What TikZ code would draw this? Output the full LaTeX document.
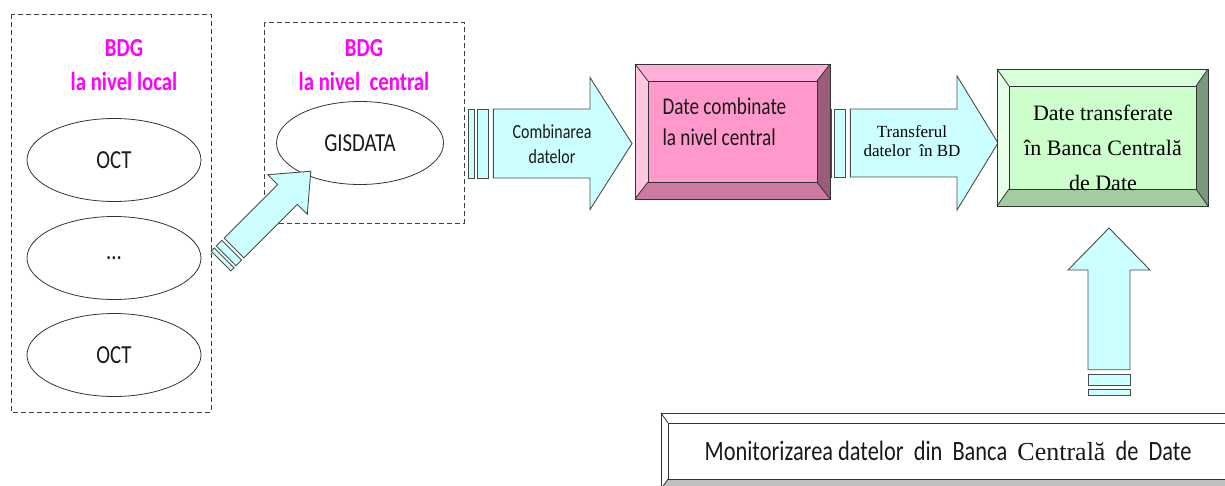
\documentclass[tikz,border=0pt]{standalone}
\usepackage{fontspec}
\setmainfont{Liberation Serif}
\newfontfamily\condfont[FakeStretch=0.8]{Carlito}
\usetikzlibrary{shapes.geometric}

\definecolor{arrowfill}{HTML}{CCFFFF}
\definecolor{titlecol}{HTML}{FF00FF}
\definecolor{pinkmid}{HTML}{FF99CC}
\definecolor{pinktop}{HTML}{FFB0D8}
\definecolor{pinkleft}{HTML}{FFC6E2}
\definecolor{pinkbot}{HTML}{CC7AA3}
\definecolor{pinkright}{HTML}{995C7A}
\definecolor{greenmid}{HTML}{CCFFCC}
\definecolor{greentop}{HTML}{D8FFD8}
\definecolor{greenleft}{HTML}{E6FFE6}
\definecolor{greenbot}{HTML}{A3CCA3}
\definecolor{greenright}{HTML}{7A997A}
\colorlet{plainmid}{white}
\colorlet{plaintop}{white}
\colorlet{plainleft}{white}
\definecolor{plainbot}{HTML}{BFBFBF}
\definecolor{plainright}{HTML}{999999}

% striped block arrow along +x: length/head length/half shaft/half head/stripe unit
\tikzset{
  pics/stripedarrow/.style args={#1/#2/#3/#4/#5}{code={
    \draw[arrowstyle] (0,-#3) rectangle (0.55*#5,#3);
    \draw[arrowstyle] (0.9*#5,-#3) rectangle (1.9*#5,#3);
    \draw[arrowstyle] (2.3*#5,-#3) -- (#1-#2,-#3) -- (#1-#2,-#4) -- (#1,0)
      -- (#1-#2,#4) -- (#1-#2,#3) -- (2.3*#5,#3) -- cycle;
  }}
}

% bevelled box: x1,y1,x2,y2, colour prefix, inset x, inset y
\def\bevelbox#1#2#3#4#5#6#7{%
  \fill[#5top] (#1,#2) -- (#3,#2) -- (#3-#6,#2+#7) -- (#1+#6,#2+#7) -- cycle;
  \fill[#5left] (#1,#2) -- (#1+#6,#2+#7) -- (#1+#6,#4-#7) -- (#1,#4) -- cycle;
  \fill[#5bot] (#1,#4) -- (#1+#6,#4-#7) -- (#3-#6,#4-#7) -- (#3,#4) -- cycle;
  \fill[#5right] (#3,#2) -- (#3,#4) -- (#3-#6,#4-#7) -- (#3-#6,#2+#7) -- cycle;
  \draw[boxline,fill=#5mid] (#1+#6,#2+#7) rectangle (#3-#6,#4-#7);
  \draw[boxline] (#1,#2) rectangle (#3,#4);
  \draw[boxline] (#1,#2) -- (#1+#6,#2+#7) (#3,#2) -- (#3-#6,#2+#7)
    (#1,#4) -- (#1+#6,#4-#7) (#3,#4) -- (#3-#6,#4-#7);
}

\begin{document}
\begin{tikzpicture}
    [x=1pt,y=-1pt,
      dashedbox/.style={draw=black!75,line width=0.8pt,dash pattern=on 5pt off 3pt},
      title/.style={font=\condfont\bfseries\fontsize{26}{34}\selectfont,text=titlecol,align=center},
      oval/.style={ellipse,draw=black!80,line width=0.8pt,minimum width=174pt,
        minimum height=83pt,inner sep=0pt,font=\condfont\fontsize{26}{30}\selectfont,text=black!90},
      arrowstyle/.style={draw=black!70,fill=arrowfill,line width=0.9pt,line join=miter},
      boxline/.style={draw=black!80,line width=0.8pt},
      sanstext/.style args={#1/#2}{font=\condfont\fontsize{#1}{#2}\selectfont,text=black!90,align=center}]

    \useasboundingbox (0,0) rectangle (1225,485);
    \clip (0,0) rectangle (1225,485);

    % local and central databases
    \draw[dashedbox] (11,14) rectangle (211,412);
    \draw[dashedbox] (264,22) rectangle (464,223);
    \node[title] (loctitle) at (124,65) {BDG\\la nivel local};
    \node[title] (centitle) at (364,65) {BDG\\la nivel~ central};

    \node[oval] (oct1) at (114,160) {OCT};
    \node[oval] (oct2) at (114,258) {...};
    \node[oval] (oct3) at (114,355) {OCT};
    \node[oval,minimum width=167pt] (gis) at (360,143) {GISDATA};

    \pic[rotate=45] (upload) at (221,261) {stripedarrow=127/33/14/28/8};

    % combining and transfer
    \pic (combarrow) at (468,143.5) {stripedarrow=164/42/34.5/66/11};
    \node[sanstext=20/25] (comblbl) at (552,144) {Combinarea\\datelor};

    \pic (transarrow) at (825,143) {stripedarrow=173/41/34/67/11};
    \node[font=\fontsize{17}{19}\selectfont,align=center] (translbl) at (912,141)
      {Transferul\\datelor~ în BD};

    \bevelbox{635}{64}{830}{199}{pink}{13}{17}
    \node[sanstext=24/31,align=left,anchor=west] (combtxt) at (659,122)
      {Date combinate\\la nivel central};

    \bevelbox{997}{69}{1208}{206}{green}{12}{17}
    \node[font=\fontsize{22}{35}\selectfont,align=center] (transtxt) at (1103,148)
      {Date transferate\\în Banca Centrală\\de Date};

    % monitoring
    \pic[rotate=90] (monarrow) at (1109,395) {stripedarrow=167/42/21/41/11};
    \bevelbox{661}{413}{1235}{489}{plain}{7}{10}
    \node[sanstext=28/32] (monit) at (948,451)
      {Monitorizarea datelor~ din~ Banca~ {\rmfamily\fontsize{26}{30}\selectfont Centrală}~ de~ Date};

\end{tikzpicture}
\end{document}
